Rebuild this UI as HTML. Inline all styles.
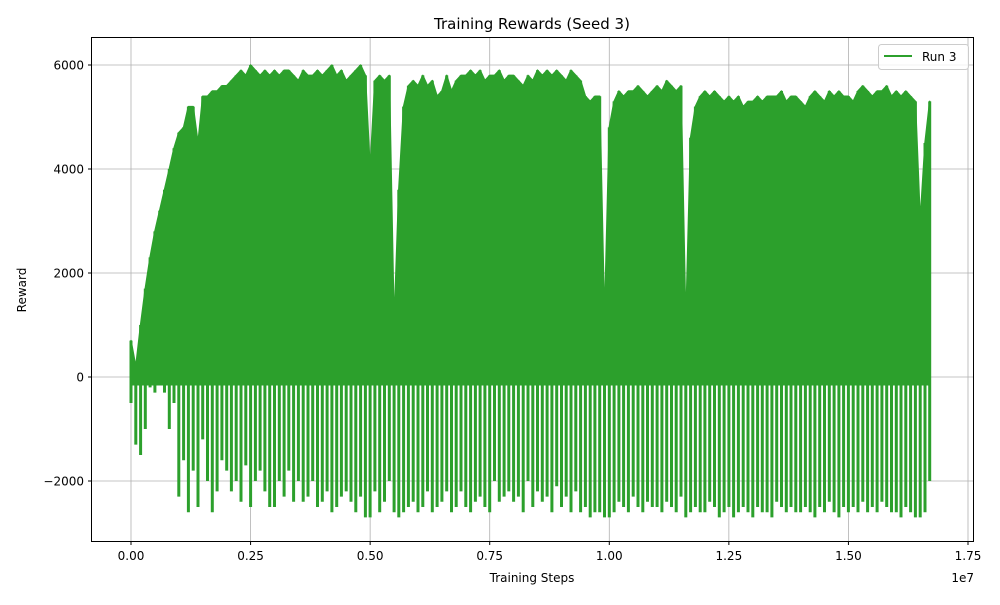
<!DOCTYPE html>
<html><head><meta charset="utf-8"><style>
body{margin:0;background:#fff;font-family:"Liberation Sans","DejaVu Sans",sans-serif}
svg text{font-family:"DejaVu Sans","Liberation Sans",sans-serif;fill:#000}
</style></head><body>
<svg id="chart" width="1000" height="600" viewBox="0 0 1000 600" xmlns="http://www.w3.org/2000/svg">
<rect x="0" y="0" width="1000" height="600" fill="#fff"/>
<g id="grid"></g>
<g id="series"></g>
<rect x="91.5" y="37.5" width="882" height="504" fill="none" stroke="#000" stroke-width="1"/>
<g id="axes"></g>
<text x="532" y="29" font-size="15" text-anchor="middle">Training Rewards (Seed 3)</text>
<text x="532" y="582" font-size="12" text-anchor="middle">Training Steps</text>
<text x="974" y="582" font-size="12" text-anchor="end">1e7</text>
<text x="26" y="290" font-size="12" text-anchor="middle" transform="rotate(-90 26 290)">Reward</text>
<g>
<rect x="878.5" y="44.5" width="90" height="25" rx="3" fill="#fff" fill-opacity="0.8" stroke="#ccc"/>
<line x1="884" y1="56" x2="912" y2="56" stroke="#2ca02c" stroke-width="2"/>
<text x="922" y="61" font-size="12">Run 3</text>
</g>
</svg>
<script>
const binSize = 1e5;
const highs = [700,200,1000,1700,2300,2800,3200,3600,4000,4400,
4700,4800,5200,5200,4500,5400,5400,5500,5500,5600,
5600,5700,5800,5900,5800,6000,5900,5800,5900,5800,
5900,5800,5900,5900,5800,5700,5900,5800,5800,5900,
5800,5900,6000,5800,5900,5700,5800,5900,6000,5800,
4000,5700,5800,5700,5800,1000,3600,5200,5600,5700,
5600,5800,5600,5700,5400,5500,5800,5500,5700,5800,
5800,5900,5800,5900,5700,5800,5800,5900,5700,5800,
5800,5700,5600,5800,5700,5900,5800,5900,5800,5900,
5800,5700,5900,5800,5700,5400,5300,5400,5400,1100,
4800,5300,5500,5400,5500,5500,5600,5500,5400,5500,
5600,5500,5700,5600,5500,5600,1000,4600,5200,5400,
5500,5400,5500,5400,5300,5400,5300,5400,5200,5300,
5300,5400,5300,5400,5400,5400,5500,5300,5400,5400,
5300,5200,5400,5500,5400,5300,5500,5400,5500,5400,
5400,5300,5500,5600,5500,5400,5500,5500,5600,5400,
5500,5400,5500,5400,5300,3000,4500,5300];
const lows = [-500,-1300,-1500,-1000,-200,-300,0,-300,-1000,-500,
-2300,-1600,-2600,-1800,-2500,-1200,-2000,-2600,-2200,-1600,
-1800,-2200,-2000,-2400,-1700,-2500,-2000,-1800,-2200,-2500,
-2500,-2000,-2300,-1800,-2400,-2000,-2400,-2300,-2000,-2500,
-2400,-2200,-2600,-2500,-2300,-2200,-2400,-2600,-2300,-2700,
-2700,-2200,-2600,-2400,-2000,-2600,-2700,-2600,-2500,-2400,
-2600,-2500,-2200,-2600,-2500,-2400,-2200,-2600,-2500,-2200,
-2500,-2600,-2400,-2300,-2500,-2600,-2000,-2400,-2300,-2200,
-2400,-2300,-2600,-2000,-2500,-2200,-2400,-2300,-2600,-2100,
-2500,-2300,-2600,-2200,-2600,-2500,-2700,-2600,-2600,-2700,
-2700,-2600,-2400,-2500,-2600,-2300,-2500,-2600,-2400,-2500,
-2500,-2600,-2400,-2500,-2600,-2300,-2700,-2600,-2500,-2600,
-2600,-2400,-2500,-2700,-2600,-2500,-2700,-2600,-2500,-2600,
-2700,-2500,-2600,-2600,-2700,-2400,-2500,-2600,-2500,-2600,
-2600,-2500,-2600,-2700,-2500,-2600,-2400,-2600,-2700,-2500,
-2600,-2500,-2600,-2400,-2600,-2500,-2600,-2400,-2500,-2600,
-2600,-2700,-2500,-2600,-2700,-2700,-2600,-2000];
const xTicks = [0,0.25e7,0.5e7,0.75e7,1.0e7,1.25e7,1.5e7,1.75e7];
const xTickLabels = ["0.00","0.25","0.50","0.75","1.00","1.25","1.50","1.75"];
const yTicks = [-2000,0,2000,4000,6000];
const yTickLabels = ["\u22122000","0","2000","4000","6000"];
const coreFloor = -150;

const X0=131, XK=(968-131)/1.75e7;
const xs = v => X0 + v*XK;
const ys = v => 377 - v*(104/2000);
const NS='http://www.w3.org/2000/svg';
const grid=document.getElementById('grid'), axes=document.getElementById('axes'), ser=document.getElementById('series');
function mk(tag,attrs,parent){const e=document.createElementNS(NS,tag);for(const k in attrs)e.setAttribute(k,attrs[k]);parent.appendChild(e);return e;}
xTicks.forEach((t,i)=>{
  const x=xs(t);
  const g=mk('line',{x1:x,x2:x,y1:37.5,y2:541.5,stroke:'#b0b0b0','stroke-width':0.8},grid);
  
  
  mk('line',{x1:x,x2:x,y1:541.5,y2:545,stroke:'#000'},axes);
  const tx=mk('text',{x:x,y:560,'font-size':12,'text-anchor':'middle'},axes);
  tx.textContent=xTickLabels[i];
  
  
});
yTicks.forEach((t,i)=>{
  const y=ys(t);
  const g=mk('line',{x1:91.5,x2:973.5,y1:y,y2:y,stroke:'#b0b0b0','stroke-width':0.8},grid);
  
  
  mk('line',{x1:88,x2:91.5,y1:y,y2:y,stroke:'#000'},axes);
  const tx=mk('text',{x:84,y:y+4.5,'font-size':12,'text-anchor':'end'},axes);
  tx.textContent=yTickLabels[i];
  
  
});
let pts=[];
highs.forEach((h,i)=>pts.push(xs(i*binSize).toFixed(1)+','+ys(h).toFixed(1)));
for(let i=highs.length-1;i>=0;i--) pts.push(xs(i*binSize).toFixed(1)+','+ys(Math.min(coreFloor,highs[i])).toFixed(1));
const band=mk('polygon',{points:pts.join(' '),fill:'#2ca02c',stroke:'#2ca02c','stroke-width':1.5,'stroke-linejoin':'round'},ser);


let d='';
highs.forEach((h,i)=>{const x=xs(i*binSize).toFixed(1);d+='M'+x+','+ys(h).toFixed(1)+'L'+x+','+ys(lows[i]).toFixed(1);});
const sp=mk('path',{d:d,fill:'none',stroke:'#2ca02c','stroke-width':3},ser);


</script>
</body></html>
